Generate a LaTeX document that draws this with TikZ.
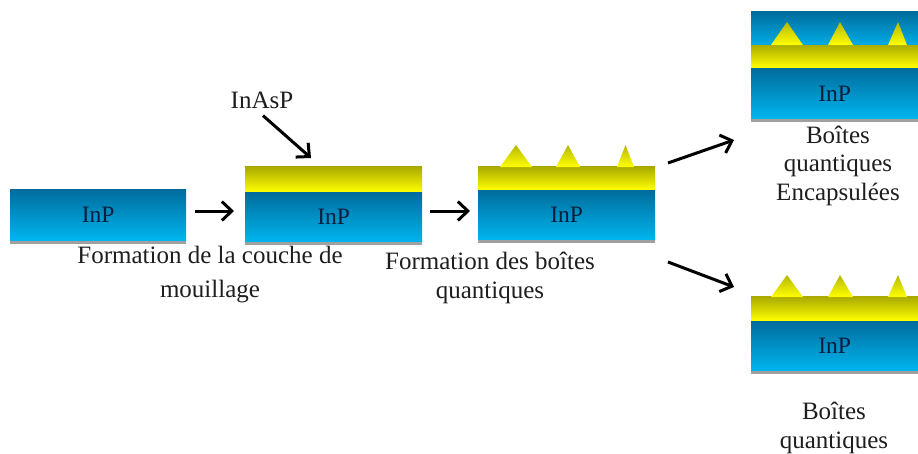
\documentclass[tikz,border=0pt]{standalone}
\usepackage{fontspec}
\setmainfont{Liberation Serif}
\usetikzlibrary{arrows.meta}
\definecolor{bluetop}{RGB}{0,108,156}
\definecolor{bluebot}{RGB}{0,182,240}
\definecolor{yeltop}{RGB}{170,170,0}
\definecolor{yelbot}{RGB}{255,255,0}
\definecolor{basegray}{RGB}{160,160,160}
\definecolor{inptext}{RGB}{12,28,60}
\definecolor{txt}{RGB}{30,30,30}
\tikzset{
  inp/.style={rectangle, inner sep=0pt, anchor=north west, top color=bluetop,
    bottom color=bluebot, text=inptext, font=\fontsize{23.5}{27}\selectfont},
  wet/.style={rectangle, inner sep=0pt, anchor=south west, top color=yeltop,
    bottom color=yelbot},
  dot/.style={top color=yeltop!85!yelbot, bottom color=yelbot},
  capping/.style={rectangle, inner sep=0pt, anchor=south west, top color=bluetop,
    bottom color=bluebot!85!bluetop},
  caption/.style={align=center, text=txt, inner sep=0pt,
    font=\fontsize{25}{28.5}\selectfont},
  arr/.style={-{Straight Barb[length=10pt,width=19pt,line width=3pt]},
    line width=3pt, black},
}
\newcommand{\basestrip}[1]{\fill[basegray] (#1.south west) rectangle ([yshift=-3pt]#1.south east);}
\begin{document}
\begin{tikzpicture}[x=1pt,y=-1pt]
\useasboundingbox (0,0) rectangle (918,453);

% bare substrate
\node[inp, minimum width=176pt, minimum height=52pt] (s1) at (10,189) {InP};
\basestrip{s1}

% substrate with wetting layer
\node[inp, minimum width=177pt, minimum height=50pt] (s2) at (245,192) {InP};
\basestrip{s2}
\node[wet, minimum width=177pt, minimum height=25pt] (w2) at (s2.north west) {};

% substrate with islands
\node[inp, minimum width=177pt, minimum height=50pt] (s3) at (478,190) {InP};
\basestrip{s3}
\node[wet, minimum width=177pt, minimum height=23pt] (w3) at (s3.north west) {};
\shade[dot] (500,167) -- (516,145) -- (532,167) -- cycle;
\shade[dot] (556,167) -- (568,145) -- (580,167) -- cycle;
\shade[dot] (617,167) -- (625.5,145) -- (634,167) -- cycle;

% capped islands
\node[inp, minimum width=167pt, minimum height=51pt] (s4) at (751,68) {InP};
\basestrip{s4}
\node[wet, minimum width=167pt, minimum height=23pt] (w4) at (s4.north west) {};
\node[capping, minimum width=167pt, minimum height=33pt] (c4) at (w4.north west) {};
\shade[dot] (771,45) -- (787,22) -- (803,45) -- cycle;
\shade[dot] (828,45) -- (840,22) -- (853,45) -- cycle;
\shade[dot] (888,45) -- (898,22) -- (907,45) -- cycle;

% uncapped islands
\node[inp, minimum width=167pt, minimum height=50pt] (s5) at (751,321) {InP};
\basestrip{s5}
\node[wet, minimum width=167pt, minimum height=24pt] (w5) at (s5.north west) {};
\shade[dot] (771,297) -- (787,275) -- (803,297) -- cycle;
\shade[dot] (828,297) -- (840,275) -- (853,297) -- cycle;
\shade[dot] (888,297) -- (898,275) -- (907,297) -- cycle;

% captions (base anchor sits on the last line)
\node[caption] (inasp) at (262,100) {InAsP};
\node[caption, anchor=base] (t1) at (210,297) {Formation de la couche de\\[5pt]mouillage};
\node[caption, anchor=base] (t2) at (490,298) {Formation des boîtes\\quantiques};
\node[caption, anchor=base] (t4) at (838,200) {Boîtes\\quantiques\\Encapsulées};
\node[caption, anchor=base] (t5) at (834,448) {Boîtes\\quantiques};

% process arrows
\coordinate (p1) at (195,211);
\coordinate (p2) at (234,211);
\coordinate (p3) at (430,211);
\coordinate (p4) at (470,211);
\coordinate (p5) at (668,163);
\coordinate (p6) at (734,140);
\coordinate (p7) at (668,262);
\coordinate (p8) at (734,287);
\coordinate (p9) at (311,158);
\draw[arr] (p1) -- (p2);
\draw[arr] (p3) -- (p4);
\draw[arr] (p5) -- (p6);
\draw[arr] (p7) -- (p8);
\draw[arr] ([shift={(1,7)}]inasp.south) -- (p9);
\end{tikzpicture}
\end{document}
